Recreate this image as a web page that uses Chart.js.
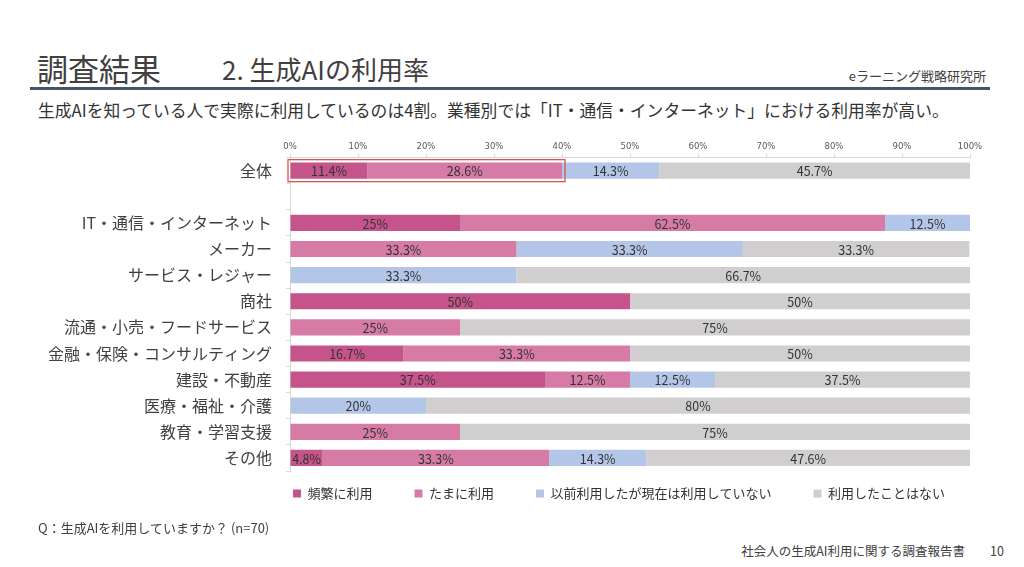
<!DOCTYPE html>
<html lang="ja">
<head>
<meta charset="utf-8">
<script src="https://cdn.jsdelivr.net/npm/chart.js@4.4.1/dist/chart.umd.min.js"></script>
<style>
  html, body { margin: 0; padding: 0; background: #fff; }
  body { width: 1024px; height: 567px; position: relative; overflow: hidden;
         font-family: "Noto Sans CJK JP", "Noto Sans", sans-serif; color: #333; }
  .abs { position: absolute; white-space: nowrap; }
  #title { left: 37px; top: 45px; font-size: 31px; color: #404040; }
  #subtitle2 { left: 222px; top: 50px; font-size: 26px; color: #404040; }
  #org { right: 38px; top: 66px; font-size: 13px; color: #404040; }
  #rule { left: 30px; top: 87px; width: 960px; height: 3px; background: #44546A; }
  #lead { left: 38px; top: 98px; font-size: 16.8px; color: #333; }
  #note { left: 38px; top: 518px; font-size: 13px; color: #404040; }
  #foot { right: 59px; top: 541px; font-size: 12.5px; color: #404040; }
  #page { right: 20px; top: 541px; font-size: 12.5px; color: #404040; }
  #wrap { position: absolute; left: 30px; top: 134px; width: 960px; height: 402px; }
</style>
</head>
<body>
<div class="abs" id="title">調査結果</div>
<div class="abs" id="subtitle2">2. 生成AIの利用率</div>
<div class="abs" id="org">eラーニング戦略研究所</div>
<div class="abs" id="rule"></div>
<div class="abs" id="lead">生成AIを知っている人で実際に利用しているのは4割。業種別では「IT・通信・インターネット」における利用率が高い。</div>
<div id="wrap"><canvas id="chart"></canvas></div>
<div class="abs" id="note">Q：生成AIを利用していますか？ (n=70)</div>
<div class="abs" id="foot">社会人の生成AI利用に関する調査報告書</div>
<div class="abs" id="page">10</div>

<script>
// categories (blank row separates the total from the industries)
const categories = [
  '全体', '',
  'IT・通信・インターネット', 'メーカー', 'サービス・レジャー', '商社',
  '流通・小売・フードサービス', '金融・保険・コンサルティング', '建設・不動産',
  '医療・福祉・介護', '教育・学習支援', 'その他'
];

const seriesNames = ['頻繁に利用', 'たまに利用', '以前利用したが現在は利用していない', '利用したことはない'];

// percent values per answer
const often     = [11.4, null, 25,   0,    0,    50, 0,  16.7, 37.5, 0,  0,  4.8];
const sometimes = [28.6, null, 62.5, 33.3, 0,    0,  25, 33.3, 12.5, 0,  25, 33.3];
const formerly  = [14.3, null, 12.5, 33.3, 33.3, 0,  0,  0,    12.5, 20, 0,  14.3];
const never     = [45.7, null, 0,    33.3, 66.7, 50, 75, 50,   37.5, 80, 75, 47.6];

const colors = ['#C4548A', '#D67BA5', '#B4C6E7', '#D0CECE'];

// draw value labels in the middle of each segment
const valueLabels = {
  id: 'valueLabels',
  afterDatasetsDraw(chart) {
    const ctx = chart.ctx;
    ctx.save();
    ctx.font = '12.5px "Noto Sans CJK JP", sans-serif';
    ctx.fillStyle = '#333';
    ctx.textBaseline = 'middle';
    chart.data.datasets.forEach((ds, i) => {
      chart.getDatasetMeta(i).data.forEach((bar, j) => {
        const v = ds.data[j];
        if (!v) return;
        const left = Math.min(bar.x, bar.base);
        const w = Math.abs(bar.x - bar.base);
        let x = left + w / 2;
        let align = 'center';
        if (w < 30) { x = left; align = 'left'; }
        ctx.textAlign = align;
        ctx.fillText(v + '%', x, bar.y + 1);
      });
    });
    ctx.restore();
  }
};

// red frame around the "used" part of the total row
const usedFrame = {
  id: 'usedFrame',
  afterDatasetsDraw(chart) {
    const xs = chart.scales.x, ys = chart.scales.y;
    const used = often[0] + sometimes[0];
    const y = ys.getPixelForValue(0);
    const x0 = xs.getPixelForValue(0) - 2;
    const x1 = xs.getPixelForValue(used) + 3;
    const ctx = chart.ctx;
    ctx.save();
    ctx.strokeStyle = '#D9544D';
    ctx.lineWidth = 1.3;
    ctx.strokeRect(x0, y - 11, x1 - x0, 22);
    ctx.restore();
  }
};

// put the legend just under the plot, starting at its left edge
const legendShift = {
  id: 'legendShift',
  afterLayout(chart) {
    const lg = chart.legend;
    const pad = lg.options.labels.padding;
    lg.left = chart.chartArea.left + 3 - pad;
    lg.right = chart.width + 400;
    lg.top = chart.chartArea.bottom + 16 - pad;
  }
};

new Chart(document.getElementById('chart'), {
  type: 'bar',
  data: {
    labels: categories,
    datasets: [often, sometimes, formerly, never].map((d, i) => ({
      label: seriesNames[i],
      data: d,
      backgroundColor: colors[i],
      barPercentage: 0.62,
      categoryPercentage: 1.0
    }))
  },
  options: {
    indexAxis: 'y',
    responsive: true,
    maintainAspectRatio: false,
    animation: false,
    layout: { padding: { top: 0, right: 20, bottom: 0, left: 0 } },
    scales: {
      x: {
        position: 'top',
        stacked: true,
        min: 0,
        max: 100,
        ticks: {
          stepSize: 10,
          callback: v => v + '%',
          font: { size: 8.5, family: '"DejaVu Sans", sans-serif' },
          color: '#595959',
          padding: 2
        },
        grid: { drawOnChartArea: false, tickLength: 4, color: '#D9D9D9' },
        border: { color: '#D9D9D9' }
      },
      y: {
        stacked: true,
        afterFit(scale) { scale.width = 260; },
        ticks: {
          font: { size: 16, family: '"Noto Sans CJK JP", sans-serif' },
          color: '#404040',
          padding: 14
        },
        grid: { drawOnChartArea: false, tickLength: 4, color: '#D9D9D9' },
        border: { color: '#D9D9D9' }
      }
    },
    plugins: {
      legend: {
        position: 'bottom',
        align: 'start',
        labels: {
          boxWidth: 8,
          boxHeight: 8,
          padding: 42,
          color: '#333',
          font: { size: 13, family: '"Noto Sans CJK JP", sans-serif' }
        }
      },
      tooltip: { enabled: false }
    }
  },
  plugins: [valueLabels, usedFrame, legendShift]
});
</script>
</body>
</html>
